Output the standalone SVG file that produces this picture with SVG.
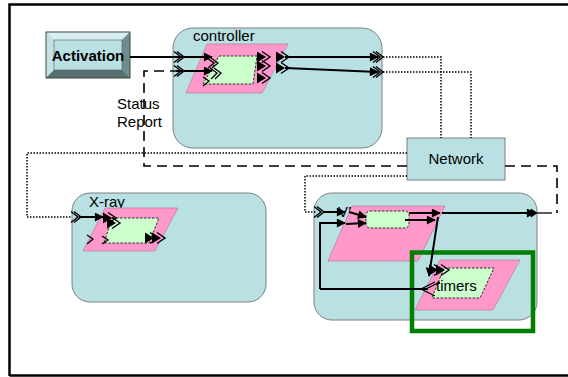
<svg xmlns="http://www.w3.org/2000/svg" width="568" height="377" viewBox="0 0 568 377">
  <style>
    .lbl { font-family: "Liberation Sans", Arial, sans-serif; font-size: 15px; fill: #000; }
    .box { fill: #b9e0e3; stroke: #7f7f7f; stroke-width: 1; }
    .pink { fill: #ff99cc; stroke: #b07090; stroke-width: 0.6; }
    .green { fill: #ccffcc; stroke: #000; stroke-width: 0.8; stroke-dasharray: 2.5 1.5; }
    .wire { fill: none; stroke: #000; stroke-width: 2; }
    .thin { fill: none; stroke: #000; stroke-width: 1.3; }
    .dots { fill: none; stroke: #000; stroke-width: 1.5; stroke-dasharray: 1.5 1.5; }
    .dash { fill: none; stroke: #000; stroke-width: 1.6; stroke-dasharray: 10 6; }
    .chev { fill: none; stroke: #000; stroke-width: 1.3; stroke-linejoin: miter; }
    .tri { fill: #000; stroke: #000; stroke-width: 0.8; }
  </style>
  <defs>
    <marker id="arr" viewBox="0 0 10 10" refX="9" refY="5" markerWidth="5" markerHeight="4.5" orient="auto" markerUnits="strokeWidth">
      <path d="M0,0 L10,5 L0,10 Z" fill="#000"/>
    </marker>
    <!-- port glyph: a pair of nested chevrons -->
    <g id="port">
      <path d="M-4,-5.5 L3,0 L-4,5.5" fill="none" stroke="#000" stroke-width="1.4"/>
      <path d="M-1,-5.5 L6,0 L-1,5.5" fill="none" stroke="#000" stroke-width="1.4"/>
    </g>
    <g id="portf">
      <path d="M-5,-5.5 L4,0 L-5,5.5 Z" fill="#000"/>
      <path d="M0,-5.5 L8,0 L0,5.5" fill="none" stroke="#000" stroke-width="1.4"/>
    </g>
  </defs>

  <rect width="568" height="377" fill="#fff"/>

  <!-- outer frame -->
  <path d="M9.5,376 L9.5,4.5 L568,4.5 M9.5,375.5 L568,375.5" fill="none" stroke="#000" stroke-width="2.5"/>

  <!-- Activation button -->
  <g id="activation">
    <rect x="46" y="32" width="84" height="46" fill="#8fb4b6"/>
    <polygon points="46,32 130,32 122,40 54,40" fill="#d9eeee"/>
    <polygon points="46,32 54,40 54,70 46,78" fill="#c4e2e3"/>
    <polygon points="130,32 130,78 122,70 122,40" fill="#6f8c8e"/>
    <polygon points="46,78 54,70 122,70 130,78" fill="#58706f"/>
    <rect x="54" y="40" width="68" height="30" fill="#b9e0e3" stroke="#556" stroke-width="0.6"/>
    <rect x="46" y="32" width="84" height="46" fill="none" stroke="#444" stroke-width="1"/>
    <text class="lbl" x="88" y="61" text-anchor="middle" font-weight="bold" font-size="14">Activation</text>
  </g>

  <!-- controller -->
  <g id="controller">
    <rect class="box" x="173" y="28" width="209" height="120" rx="20"/>
    <text class="lbl" x="193" y="41">controller</text>
    <polygon class="pink" points="207,44 288,44 262,93 186,93"/>
    <polygon class="green" points="219,56 257,56 253,84 203,84"/>
  </g>

  <!-- X-ray -->
  <g id="xray">
    <rect class="box" x="72" y="193" width="194" height="109" rx="18"/>
    <text class="lbl" x="89" y="207">X-ray</text>
    <polygon class="pink" points="105,208 178,208 155,251 83,251"/>
    <polygon class="green" points="112,218 159,218 149,243 104,243"/>
  </g>

  <!-- VM -->
  <g id="vm">
    <rect class="box" x="314" y="193" width="223" height="127" rx="18"/>
    <text class="lbl" x="338" y="217">VM</text>
    <polygon class="pink" points="352,206 445,206 418,261 328,261"/>
    <rect class="green" x="366" y="211" width="43" height="17" rx="4"/>
  </g>

  <!-- timers -->
  <g id="timers">
    <polygon class="pink" points="440,260 520,260 493,310 415,310"/>
    <polygon class="green" points="444,268 494,268 480,298 432,298"/>
    <text class="lbl" x="436" y="291">timers</text>
    <rect x="412" y="252.5" width="121" height="78.5" fill="none" stroke="#007f00" stroke-width="4.5"/>
  </g>

  <!-- Network -->
  <g id="network">
    <rect class="box" x="407" y="138" width="98" height="42"/>
    <text class="lbl" x="456" y="164" text-anchor="middle">Network</text>
  </g>

  <!-- Status Report label -->
  <g id="status-report">
    <text class="lbl" x="117" y="109">Status</text>
    <text class="lbl" x="117" y="127">Report</text>
  </g>

  <!-- connectors -->
  <g id="connectors">
    <!-- Activation into controller -->
    <path class="wire" d="M130,57 H212" marker-end="url(#arr)"/>
    <use href="#port" x="178" y="57"/>
    <!-- status report loop -->
    <path class="dash" d="M407,166 H144 V71 H176"/>
    <path class="wire" d="M176,71 H212" marker-end="url(#arr)"/>
    <use href="#port" x="178" y="71"/>
    <!-- controller inner ports -->
    <path class="chev" d="M207,58 L214,63 L208,68 M211,58 L218,63 L212,68"/>
    <path class="chev" d="M210,68 L217,73 L211,79 M214,68 L221,73 L215,79"/>
    <path class="chev" d="M203,77 L209,81 L203,86"/>
    <use href="#portf" x="262" y="57"/>
    <use href="#portf" x="262" y="66"/>
    <use href="#portf" x="262" y="78"/>
    <use href="#portf" x="281" y="57"/>
    <use href="#portf" x="281" y="68"/>
    <!-- controller outputs to Network -->
    <path class="wire" d="M285,57 H378" marker-end="url(#arr)"/>
    <path class="wire" d="M285,68 L378,72" marker-end="url(#arr)"/>
    <use href="#port" x="377" y="57"/>
    <use href="#port" x="377" y="72"/>
    <path class="dots" d="M383,57 H441 V138"/>
    <path class="dots" d="M383,72 H471 V138"/>

    <!-- Network to X-ray -->
    <path class="dots" d="M407,153 H27 V217 H72"/>
    <use href="#port" x="75" y="217"/>
    <path class="wire" d="M79,217 H103" marker-end="url(#arr)"/>
    <use href="#portf" x="108" y="218"/>
    <use href="#portf" x="112" y="223"/>
    <use href="#portf" x="150" y="238"/>
    <use href="#portf" x="157" y="238"/>
    <path class="chev" d="M87,235 L93,239 L87,244 M102,236 L108,240 L102,244"/>

    <!-- Network to VM -->
    <path class="dots" d="M407,176 H305 V212 H316"/>
    <use href="#port" x="318" y="212"/>
    <path class="wire" d="M323,212 H345" marker-end="url(#arr)"/>
    <path class="wire" d="M349,212 L366,217" marker-end="url(#arr)"/>
    <path class="wire" d="M320,289 V223 H345" marker-end="url(#arr)"/>
    <path class="wire" d="M346,224 L366,223" marker-end="url(#arr)"/>
    <path class="wire" d="M409,213 H440" marker-end="url(#arr)"/>
    <path class="wire" d="M405,220 H435" marker-end="url(#arr)"/>
    <path class="wire" d="M442,213 H535" marker-end="url(#arr)"/>
    <path class="tri" d="M531,209 L537,213 L531,217 Z"/>
    <path class="thin" d="M537,213 H552"/>
    <path class="dash" d="M505,166 H557 V213"/>
    <!-- into timers -->
    <path class="wire" d="M438,217 L429,276" marker-end="url(#arr)"/>
    <use href="#portf" x="434" y="270"/>
    <use href="#portf" x="441" y="270"/>
    <!-- timers back to VM loop -->
    <path class="wire" d="M320,289 H428"/>
    <path class="chev" d="M435,282 L421,289 L435,296 M440,282 L426,289"/>
  </g>
</svg>
